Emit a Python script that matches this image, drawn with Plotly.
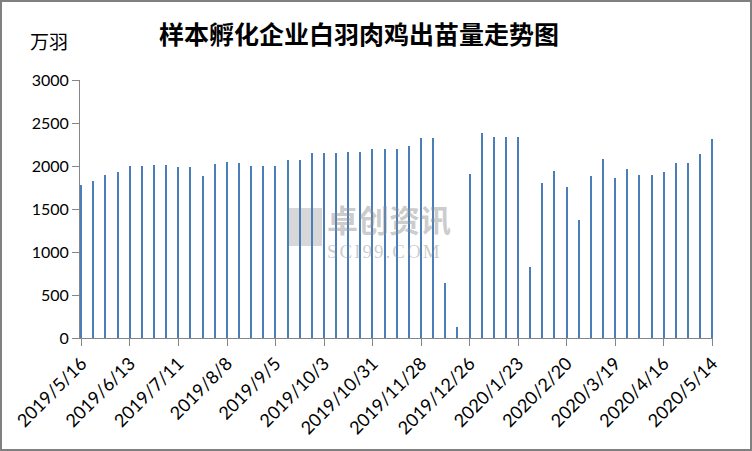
import plotly.graph_objects as go
import datetime as dt

start = dt.date(2019, 5, 16)
dates = [(start + dt.timedelta(weeks=i)) for i in range(53)]
date_labels = [f"{d.year}/{d.month}/{d.day}" for d in dates]

values = [1783, 1829, 1899, 1934, 2000, 2000, 2015, 2015, 1992, 1992,
          1887, 2027, 2050, 2038, 2000, 2000, 2000, 2073, 2073, 2155,
          2155, 2155, 2166, 2166, 2201, 2201, 2201, 2236, 2329, 2329,
          643, 131, 1910, 2387, 2341, 2341, 2341, 829, 1806, 1946,
          1759, 1375, 1887, 2085, 1864, 1969, 1899, 1899, 1934, 2038,
          2038, 2143, 2318]

tick_idx = list(range(0, 53, 4))
tick_text = [date_labels[i] for i in tick_idx]

y_ticks = [0, 500, 1000, 1500, 2000, 2500, 3000]

fig = go.Figure()
fig.add_trace(go.Bar(
    x=list(range(len(values))), y=values,
    width=0.12, marker=dict(color="#4a7ebb", line=dict(width=0)),
    hoverinfo="skip",
))

axis_color = "#868686"
font_fam = "Lato, 'Liberation Sans', sans-serif"
wm_color = "rgba(140,140,140,0.45)"

fig.update_layout(
    width=752, height=451,
    margin=dict(l=80, r=39, t=80, b=113),
    paper_bgcolor="white", plot_bgcolor="white",
    showlegend=False,
    bargap=0,
    xaxis=dict(
        range=[-0.12, 52.05],
        tickmode="array", tickvals=tick_idx, ticktext=tick_text,
        tickangle=-45, ticks="outside", ticklen=7, tickcolor=axis_color,
        showline=True, linecolor=axis_color, linewidth=1,
        showgrid=False, zeroline=False,
        tickfont=dict(family=font_fam, size=18, color="black"),
    ),
    yaxis=dict(
        range=[0, 3000],
        tickmode="array", tickvals=y_ticks,
        ticks="outside", ticklen=7, tickcolor=axis_color,
        showline=True, linecolor=axis_color, linewidth=1,
        showgrid=False, zeroline=False,
        tickfont=dict(family=font_fam, size=16, color="black"),
    ),
    shapes=[
        dict(type="rect", xref="paper", yref="paper",
             x0=-79/633, x1=1 + 38/633, y0=-112/258, y1=1 + 79/258,
             line=dict(color="#808080", width=2), fillcolor="rgba(0,0,0,0)"),
        dict(type="rect", xref="paper", yref="paper",
             x0=(288-80)/633, x1=(322-80)/633, y0=(338-246)/258, y1=(338-208)/258,
             line=dict(width=0), fillcolor="rgba(140,140,140,0.35)", layer="below"),
    ],
    annotations=[
        dict(text="样本孵化企业白羽肉鸡出苗量走势图", xref="paper", yref="paper",
             x=(359-80)/633, y=1 + (80-33)/258, xanchor="center", yanchor="middle",
             showarrow=False,
             font=dict(family="'Noto Sans CJK SC'", size=25, color="black", weight="bold")),
        dict(text="万羽", xref="paper", yref="paper",
             x=(49-80)/633, y=1 + (80-41)/258, xanchor="center", yanchor="middle",
             showarrow=False,
             font=dict(family="'Noto Sans CJK SC'", size=19, color="black")),
        dict(text="<span style='font-size:31px;font-weight:bold'>卓创资讯</span><br><span style='font-family:Liberation Serif;font-size:19px;letter-spacing:2px'>SCI99.COM</span>",
             xref="paper", yref="paper",
             x=(325-80)/633, y=(338-229)/258, xanchor="left", yanchor="middle",
             align="left", showarrow=False,
             font=dict(family="'Noto Sans CJK SC'", size=20, color=wm_color)),
    ],
)

fig.write_html("out.html", post_script="document.body.style.margin='0';",
               config={"displayModeBar": False})
